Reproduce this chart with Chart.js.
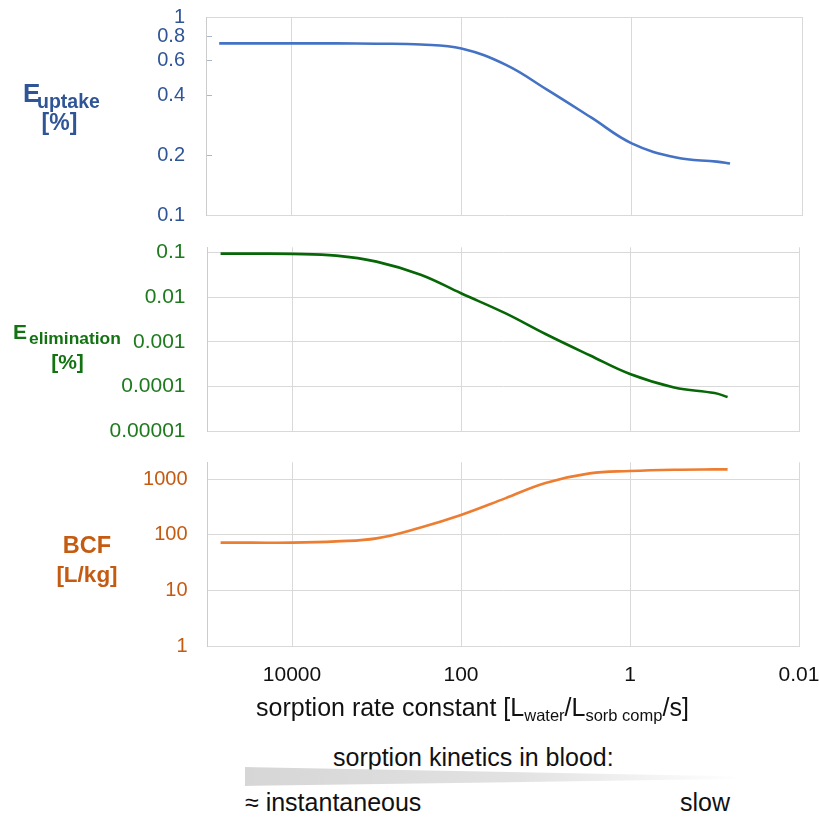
<!DOCTYPE html>
<meta charset="utf8"/>
<style>
body{margin:0;background:#fff;font-family:"Liberation Sans",Arial,sans-serif;}
#wrap{position:relative;width:819px;height:818px;overflow:hidden;background:#fff;}
canvas,.t{position:absolute;}
.t{white-space:nowrap;line-height:1;}
.b{font-weight:bold;}
.c{text-align:center;}
.s{position:relative;}
</style>

<div id="wrap">
	<canvas id="_up" width="819" height="232" style="left:0;top:0"></canvas>
	<canvas id="_el" width="819" height="214" style="left:0;top:232px"></canvas>
	<canvas id="_bcf" width="819" height="250" style="left:0;top:446px"></canvas>

	<div class="t b" style="left:23px;top:80px;font-size:26px;color:#2F5597">E</div>
	<div class="t b" style="left:37px;top:91.6px;font-size:19.5px;color:#2F5597">uptake</div>
	<div class="t b c" style="left:0;width:119px;top:110.5px;font-size:23px;color:#2F5597">[%]</div>

	<div class="t b" style="left:13px;top:320.5px;font-size:21px;color:#137313">E</div>
	<div class="t b" style="left:29px;top:330.3px;font-size:17.4px;color:#137313">elimination</div>
	<div class="t b c" style="left:0;width:135px;top:350.8px;font-size:21px;color:#137313">[%]</div>

	<div class="t b c" style="left:0;width:174px;top:534px;font-size:23.5px;color:#C55A11">BCF</div>
	<div class="t b c" style="left:0;width:174px;top:564px;font-size:22.5px;color:#C55A11">[L/kg]</div>

	<div class="t" style="left:256px;top:695px;font-size:25px;color:#111">sorption rate constant [L<span class="s" style="font-size:16.5px;top:5px">water</span>/L<span class="s" style="font-size:16.5px;top:5px">sorb comp</span>/s]</div>
	<div class="t" style="left:333px;top:745px;font-size:25px;color:#111">sorption kinetics in blood:</div>
	<div style="position:absolute;left:245px;top:767px;width:497px;height:19px;background:linear-gradient(to right,#d6d6d6 0%,#e2e2e2 55%,#ffffff 100%);clip-path:polygon(0 0,100% 50%,100% 62%,0 100%)"></div>
	<div class="t" style="left:245px;top:790px;font-size:25px;color:#111">≈ instantaneous</div>
	<div class="t" style="left:680px;top:790px;font-size:25px;color:#111">slow</div>
</div>

<script src="https://cdn.jsdelivr.net/npm/chart.js"></script>
<script>
// sorption rate constant [L/L/s]
const kRate   = [70000, 30000, 10000, 3000, 1000, 300, 100, 30, 10, 3, 1, 0.3, 0.1, 0.07];
const eUptake = [0.736, 0.736, 0.736, 0.736, 0.733, 0.726, 0.693, 0.573, 0.431, 0.311, 0.230, 0.195, 0.186, 0.182];
const eElim   = [0.095, 0.095, 0.094, 0.086, 0.063, 0.032, 0.0123, 0.0044, 0.0015, 0.0005, 0.00019, 0.000095, 0.000071, 0.000058];
const bcf     = [72, 72, 72, 76, 86, 135, 226, 450, 850, 1266, 1393, 1469, 1490, 1490];

const xTicks   = [10000, 100, 1, 0.01];
const upTicks  = [0.1, 0.2, 0.4, 0.6, 0.8, 1];
const elTicks  = [0.00001, 0.0001, 0.001, 0.01, 0.1];
const bcfTicks = [1, 10, 100, 1000];

const GRID = '#D9D9D9';
const NONE = 'rgba(0,0,0,0)';
Chart.defaults.font.family = '"Liberation Sans", Arial, sans-serif';

function makePanel(canvas, vals, lineColor, o) {
	return new Chart(canvas, {
		type: 'line',
		data: {
			datasets: [{
				data: kRate.map((k, i) => ({x: k, y: vals[i]})),
				borderColor: lineColor,
				borderWidth: 2.6,
				pointRadius: 0,
				tension: 0.4,
				fill: false,
			}]
		},
		options: {
			responsive: false,
			animation: false,
			events: [],
			layout: {padding: o.pad},
			plugins: {legend: {display: false}, tooltip: {enabled: false}},
			scales: {
				x: {
					type: 'logarithmic',
					reverse: true,
					min: 0.01,
					max: 100000,
					afterBuildTicks: s => { s.ticks = xTicks.map(v => ({value: v})); },
					afterFit: s => { s.height = o.xh; s.paddingLeft = 0; s.paddingRight = 0; },
					grid: {color: GRID, drawTicks: false},
					border: {color: GRID},
					ticks: {
						display: o.xLabels,
						padding: 17,
						maxRotation: 0,
						autoSkip: false,
						color: '#111',
						font: {size: 21},
						callback: v => String(v),
					},
				},
				y: {
					type: 'logarithmic',
					min: o.yMin,
					max: o.yMax,
					afterBuildTicks: s => { s.ticks = o.yTicks.map(v => ({value: v})); },
					afterFit: s => { s.width = o.yw; s.paddingTop = 0; s.paddingBottom = 0; },
					grid: o.grid,
					border: {color: '#CCCCCC'},
					ticks: {
						padding: o.tickPad,
						color: o.labelColor,
						font: {size: o.fs},
						callback: v => String(v),
					},
				},
			},
		},
	});
}

makePanel(_up, eUptake, '#4472C4', {
	pad: {top: 17, bottom: 17, left: 0, right: 17},
	xh: 0, xLabels: false, yw: 206,
	yMin: 0.1, yMax: 1, yTicks: upTicks,
	tickPad: 27, labelColor: '#2F5597', fs: 20,
	grid: {
		color: c => c.tick && c.tick.value === 1 ? GRID : NONE,
		drawTicks: true,
		tickLength: -6,
		tickColor: c => c.tick && c.tick.value > 0.1 && c.tick.value < 1 ? '#A9B6CB' : NONE,
	},
});

makePanel(_el, eElim, '#076707', {
	pad: {top: 15.3, bottom: 15, left: 0, right: 20},
	xh: 0, xLabels: false, yw: 207.5,
	yMin: 0.00001, yMax: 0.132, yTicks: elTicks,
	tickPad: 22, labelColor: '#1E7A1E', fs: 21,
	grid: {color: GRID, drawTicks: false},
});

makePanel(_bcf, bcf, '#ED7D31', {
	pad: {top: 16.3, bottom: 0, left: 0, right: 20},
	xh: 50, xLabels: true, yw: 207.5,
	yMin: 1, yMax: 2000, yTicks: bcfTicks,
	tickPad: 20, labelColor: '#C55A11', fs: 20,
	grid: {color: GRID, drawTicks: false},
});
</script>
